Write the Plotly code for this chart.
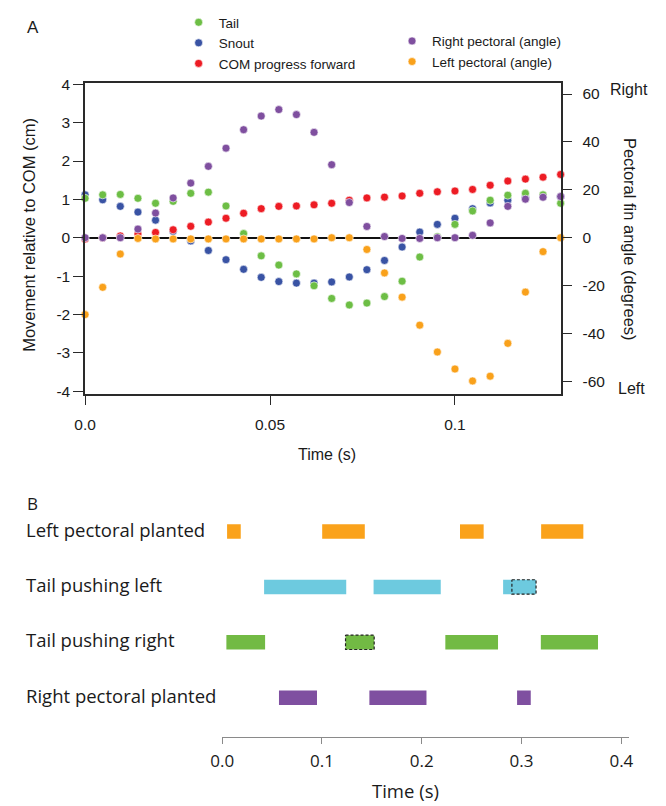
import plotly.graph_objects as go

# ---------------- Panel A data ----------------
time_s = [0.0, 0.00476, 0.00952, 0.01429, 0.01905, 0.02381, 0.02857, 0.03333,
          0.0381, 0.04286, 0.04762, 0.05238, 0.05714, 0.0619, 0.06667, 0.07143,
          0.07619, 0.08095, 0.08571, 0.09048, 0.09524, 0.1, 0.10476, 0.10952,
          0.11429, 0.11905, 0.12381, 0.12857]

tail_cm = [1.03, 1.12, 1.13, 1.03, 0.90, 0.95, 1.16, 1.19, 0.83, 0.11, -0.47, -0.71,
           -0.94, -1.25, -1.58, -1.75, -1.70, -1.53, -1.13, -0.50, 0.03, 0.35, 0.70,
           0.98, 1.11, 1.16, 1.12, 0.90]
snout_cm = [1.12, 0.99, 0.82, 0.67, 0.46, 0.17, -0.08, -0.33, -0.57, -0.82, -1.03,
            -1.14, -1.18, -1.18, -1.15, -1.02, -0.83, -0.59, -0.24, 0.15, 0.35, 0.51,
            0.76, 0.91, 0.98, 1.06, 1.08, 1.07]
com_cm = [-0.03, 0.0, 0.05, 0.10, 0.14, 0.21, 0.30, 0.41, 0.51, 0.64, 0.76, 0.82, 0.83,
          0.86, 0.90, 0.98, 1.04, 1.06, 1.09, 1.16, 1.20, 1.22, 1.26, 1.37, 1.48, 1.53,
          1.58, 1.65]
right_pec_deg = [0.0, 0.0, 0.0, 3.6, 10.3, 16.6, 22.8, 29.8, 37.4, 45.1, 50.8, 53.5,
                 51.4, 44.0, 30.5, 14.7, 4.7, 0.5, -0.3, -0.3, 0.0, 0.0, 1.0, 6.2, 13.1,
                 16.1, 16.9, 17.2]
left_pec_deg = [-32.1, -20.7, -6.8, -0.3, -0.5, -0.5, -0.5, -0.5, -0.5, -0.5, -0.5,
                -0.5, -0.5, -0.5, 0.0, 0.0, -4.9, -14.7, -24.8, -36.5, -47.7, -54.8,
                -59.8, -57.8, -44.1, -22.7, -5.8, 0.0]

a_xticks = [0.0, 0.05, 0.1]
a_xticktext = ["0.0", "0.05", "0.1"]
a_yticks = [4, 3, 2, 1, 0, -1, -2, -3, -4]
a_yticktext = ["4", "3", "2", "1", "0", "-1", "-2", "-3", "-4"]
a_y2ticks = [60, 40, 20, 0, -20, -40, -60]
a_y2ticktext = ["60", "40", "20", "0", "-20", "-40", "-60"]

# ---------------- Panel B data ----------------
row_labels = ["Left pectoral planted", "Tail pushing left",
              "Tail pushing right", "Right pectoral planted"]
left_pec_start = [0.0049, 0.1002, 0.2383, 0.3196]
left_pec_end = [0.0186, 0.1429, 0.2620, 0.3619]
tail_left_start = [0.0420, 0.1517, 0.2815]
tail_left_end = [0.1243, 0.2190, 0.3145]
tail_right_start = [0.0042, 0.1236, 0.2236, 0.3193]
tail_right_end = [0.0430, 0.1523, 0.2764, 0.3766]
right_pec_start = [0.0569, 0.1475, 0.2955]
right_pec_end = [0.0950, 0.2047, 0.3092]
# uncertain (dashed outline) phases: row index, start, end
dashed_rows = [1, 2]
dashed_start = [0.2903, 0.1236]
dashed_end = [0.3145, 0.1523]

b_xticks = [0.0, 0.1, 0.2, 0.3, 0.4]
b_xticktext = ["0.0", "0.1", "0.2", "0.3", "0.4"]

# ---------------- style ----------------
W, H = 666, 806
FA = "Liberation Sans, Arial, Helvetica, sans-serif"
FB = "Open Sans, Noto Sans, sans-serif"
C_TAIL, C_SNOUT, C_COM = "#6DBE45", "#3953A4", "#ED1C24"
C_RPEC, C_LPEC = "#7F4F9F", "#F9A11B"
B_ORANGE, B_CYAN, B_GREEN, B_PURPLE = "#FAA21B", "#6DCADF", "#72BA44", "#7F4FA0"
TXT = "#1a1a1a"


def px(x):
    return x / W


def py(y):
    return 1 - y / H


fig = go.Figure()


def mk(color):
    return dict(size=8, color=color, line=dict(color="white", width=0.6))


# draw order: snout, right pec, tail, COM, left pec
fig.add_trace(go.Scatter(x=time_s, y=snout_cm, mode="markers", name="Snout",
                         marker=mk(C_SNOUT), legend="legend", legendrank=2,
                         cliponaxis=False, xaxis="x", yaxis="y"))
fig.add_trace(go.Scatter(x=time_s, y=right_pec_deg, mode="markers",
                         name="Right pectoral (angle)", marker=mk(C_RPEC),
                         legend="legend2", legendrank=1, cliponaxis=False,
                         xaxis="x", yaxis="y2"))
fig.add_trace(go.Scatter(x=time_s, y=tail_cm, mode="markers", name="Tail",
                         marker=mk(C_TAIL), legend="legend", legendrank=1,
                         cliponaxis=False, xaxis="x", yaxis="y"))
fig.add_trace(go.Scatter(x=time_s, y=com_cm, mode="markers",
                         name="COM progress forward", marker=mk(C_COM),
                         legend="legend", legendrank=3, cliponaxis=False,
                         xaxis="x", yaxis="y"))
fig.add_trace(go.Scatter(x=time_s, y=left_pec_deg, mode="markers",
                         name="Left pectoral (angle)", marker=mk(C_LPEC),
                         legend="legend2", legendrank=2, cliponaxis=False,
                         xaxis="x", yaxis="y2"))


# ---------------- Panel B bars ----------------
def add_bars(starts, ends, row, color):
    fig.add_trace(go.Bar(
        x=[e - s for s, e in zip(starts, ends)], base=starts,
        y=[row] * len(starts), orientation="h", width=0.26,
        marker=dict(color=color, line=dict(width=0)),
        showlegend=False, xaxis="x2", yaxis="y3", hoverinfo="skip"))


add_bars(left_pec_start, left_pec_end, 0, B_ORANGE)
add_bars(tail_left_start, tail_left_end, 1, B_CYAN)
add_bars(tail_right_start, tail_right_end, 2, B_GREEN)
add_bars(right_pec_start, right_pec_end, 3, B_PURPLE)

half = 0.13
for r, s, e in zip(dashed_rows, dashed_start, dashed_end):
    fig.add_trace(go.Scatter(
        x=[s, e, e, s, s], y=[r - half, r - half, r + half, r + half, r - half],
        mode="lines", line=dict(color="#222222", width=1.2, dash="3px,2px"),
        showlegend=False, xaxis="x2", yaxis="y3", hoverinfo="skip",
        cliponaxis=False))

# ---------------- layout ----------------
ax_line = "#2a2a2a"
tickfontA = dict(family=FA, size=15.5, color=TXT)


def note(text, x, y, size, family=FA, angle=0):
    return dict(text=text, x=px(x), y=py(y), xref="paper", yref="paper",
                xanchor="center", yanchor="middle", showarrow=False,
                textangle=angle, font=dict(family=family, size=size, color=TXT))


annotations = [
    note("A", 22, 21, 17),
    note("Movement relative to COM (cm)", 18, 232, 16.5, angle=-90),
    note("Pectoral fin angle (degrees)", 635, 236.5, 16.5, angle=90),
    note("Right", 633.5, 84, 16),
    note("Left", 635.5, 388, 16),
    note("Time (s)", 323, 455, 16),
    note("B", 21, 505, 17, family=FB),
    note("Time (s)", 403.5, 796, 18.5, family=FB),
]
for i, lab in enumerate(row_labels):
    annotations.append(dict(text=lab, x=px(12), y=i, xref="paper", yref="y3",
                            xanchor="left", yanchor="middle", yshift=2.5,
                            showarrow=False,
                            font=dict(family=FB, size=18.5, color=TXT)))

legend_font = dict(family=FA, size=13.5, color=TXT)

fig.update_layout(
    width=W, height=H, margin=dict(l=0, r=0, t=0, b=0, pad=0),
    paper_bgcolor="white", plot_bgcolor="white", barmode="overlay",
    showlegend=True, hovermode=False,
    legend=dict(x=px(171), y=py(0), xanchor="left", yanchor="top",
                font=legend_font, bgcolor="rgba(0,0,0,0)", borderwidth=0,
                tracegroupgap=0, itemclick=False, itemdoubleclick=False),
    legend2=dict(x=px(390), y=py(19), xanchor="left", yanchor="top",
                 font=legend_font, bgcolor="rgba(0,0,0,0)", borderwidth=0,
                 tracegroupgap=0, itemclick=False, itemdoubleclick=False),
    xaxis=dict(domain=[px(75), px(563)], range=[0, 0.12857], anchor="y",
               showline=True, linecolor=ax_line, linewidth=1.5, mirror=True,
               ticks="outside", ticklen=10, tickcolor=ax_line, tickwidth=1.2,
               tickvals=a_xticks, ticktext=a_xticktext, tickfont=tickfontA,
               showgrid=False, zeroline=False, ticklabelstandoff=6),
    yaxis=dict(domain=[py(393), py(77)], range=[-4.06, 4.04], anchor="x",
               showline=True, linecolor=ax_line, linewidth=1.5, mirror=True,
               ticks="outside", ticklen=10, tickcolor=ax_line, tickwidth=1.2,
               tickvals=a_yticks, ticktext=a_yticktext, tickfont=tickfontA,
               showgrid=False, zeroline=True, zerolinecolor="#111111",
               zerolinewidth=1.6, ticklabelstandoff=0),
    yaxis2=dict(overlaying="y", side="right", range=[-65.1, 64.7], anchor="x",
                showline=True, linecolor=ax_line, linewidth=1.5,
                ticks="outside", ticklen=10, tickcolor=ax_line, tickwidth=1.2,
                tickvals=a_y2ticks, ticktext=a_y2ticktext, tickfont=tickfontA,
                showgrid=False, zeroline=False, ticklabelstandoff=7),
    xaxis2=dict(domain=[px(215.7), px(632.7)], range=[0, 0.4072], anchor="y3",
                showline=True, linecolor="#8a8a8a", linewidth=1.4,
                ticks="outside", ticklen=6, tickcolor="#8a8a8a", tickwidth=1.4,
                tickvals=b_xticks, ticktext=b_xticktext,
                tickfont=dict(family=FB, size=17, color=TXT),
                showgrid=False, zeroline=False, ticklabelstandoff=2),
    yaxis3=dict(domain=[py(742), py(505)], range=[3.71, -0.5], anchor="x2",
                visible=False, showgrid=False, zeroline=False),
    annotations=annotations,
)

fig.write_html("out.html", config={"displayModeBar": False},
               post_script="document.body.style.margin='0';")
